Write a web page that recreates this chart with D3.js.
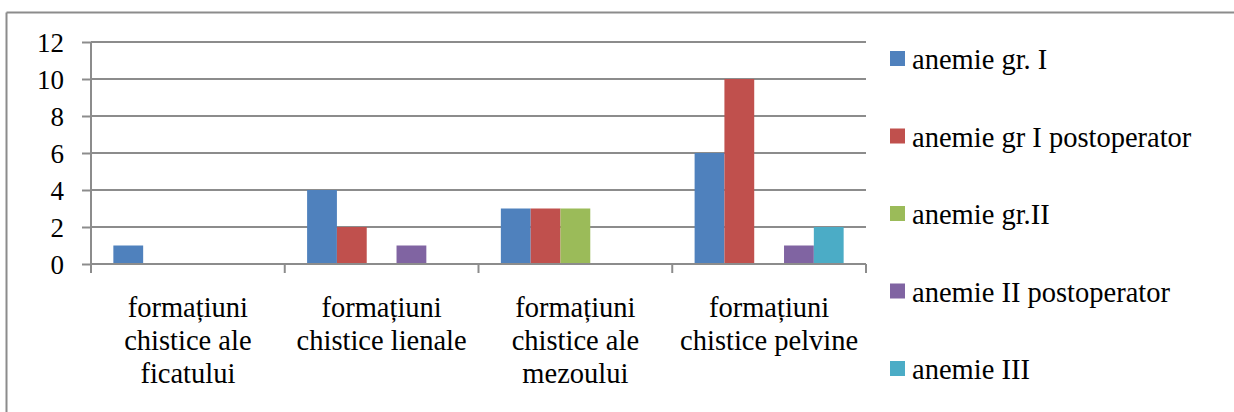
<!DOCTYPE html>
<html>
<head>
<meta charset="utf-8">
<script src="https://cdn.jsdelivr.net/npm/d3@7"></script>
<style>
html,body{margin:0;padding:0;background:#fff;}
svg{display:block;}
</style>
</head>
<body>
<svg id="chart" width="1234" height="412"></svg>
<script>
const categories = [
  ["formațiuni", "chistice ale", "ficatului"],
  ["formațiuni", "chistice lienale"],
  ["formațiuni", "chistice ale", "mezoului"],
  ["formațiuni", "chistice pelvine"]
];
const seriesNames = ["anemie gr. I", "anemie gr I postoperator", "anemie gr.II", "anemie II postoperator", "anemie III"];
const anemieGrI = [1, 4, 3, 6];
const anemieGrIPostop = [0, 2, 3, 10];
const anemieGrII = [0, 0, 3, 0];
const anemieIIPostop = [0, 1, 0, 1];
const anemieIII = [0, 0, 0, 2];
const seriesValues = [anemieGrI, anemieGrIPostop, anemieGrII, anemieIIPostop, anemieIII];
const colors = ["#4F81BD", "#C0504D", "#9BBB59", "#8064A2", "#4BACC6"];
const yTicks = [0, 2, 4, 6, 8, 10, 12];

const FONT = "'Liberation Serif', 'Times New Roman', serif";
const svg = d3.select("#chart");
const pLeft = 91, pRight = 866, pTop = 42, pBottom = 264;

// outer frame (top and left only visible)
svg.append("line").attr("x1", 6.5).attr("x2", 1234).attr("y1", 12.5).attr("y2", 12.5)
  .attr("stroke", "#8c8c8c").attr("stroke-width", 2);
svg.append("line").attr("x1", 6.5).attr("x2", 6.5).attr("y1", 12.5).attr("y2", 412)
  .attr("stroke", "#8c8c8c").attr("stroke-width", 2);

const catIdx = categories.map((d, i) => i);
const x0 = d3.scaleBand().domain(catIdx).range([pLeft, pRight]).paddingInner(0).paddingOuter(0);
const x1 = d3.scaleBand().domain(d3.range(seriesNames.length))
  .range([0, x0.bandwidth()]).paddingOuter(0.75).paddingInner(0);
const y = d3.scaleLinear().domain([0, 12]).range([pBottom, pTop]);

// gridlines
svg.append("g").selectAll("line").data(yTicks.filter(t => t > 0)).join("line")
  .attr("x1", pLeft).attr("x2", pRight)
  .attr("y1", d => y(d)).attr("y2", d => y(d))
  .attr("stroke", "#8c8c8c").attr("stroke-width", 2);

// y axis
const yAxis = svg.append("g").attr("transform", `translate(${pLeft},0)`)
  .call(d3.axisLeft(y).tickValues(yTicks).tickSize(9).tickPadding(18).tickFormat(d3.format("d")));
yAxis.attr("font-family", null).attr("font-size", null);
yAxis.select(".domain").attr("stroke", "#8c8c8c").attr("stroke-width", 2)
  .attr("d", `M0,${pTop}V${pBottom}`);
yAxis.selectAll(".tick line").attr("stroke", "#8c8c8c").attr("stroke-width", 2);
yAxis.selectAll(".tick text").style("font-size", "27px")
  .style("font-family", FONT).attr("fill", "#000").attr("dy", "0.34em");

// bars
const groups = svg.append("g").selectAll("g").data(catIdx).join("g")
  .attr("transform", d => `translate(${x0(d)},0)`);
groups.selectAll("rect")
  .data(ci => seriesValues.map((vals, si) => ({ si, v: vals[ci] })).filter(d => d.v > 0))
  .join("rect")
  .attr("x", d => x1(d.si))
  .attr("width", x1.bandwidth())
  .attr("y", d => y(d.v))
  .attr("height", d => y(0) - y(d.v))
  .attr("fill", d => colors[d.si]);

// x axis
const xAxis = svg.append("g").attr("transform", `translate(0,${pBottom})`);
xAxis.append("line").attr("x1", pLeft).attr("x2", pRight).attr("y1", 0).attr("y2", 0)
  .attr("stroke", "#8c8c8c").attr("stroke-width", 2);
const boundaries = catIdx.map(i => x0(i)).concat([pRight]);
xAxis.selectAll("line.tk").data(boundaries).join("line").attr("class", "tk")
  .attr("x1", d => d).attr("x2", d => d).attr("y1", 0).attr("y2", 9)
  .attr("stroke", "#8c8c8c").attr("stroke-width", 2);

// category labels
const labels = svg.append("g").selectAll("text").data(catIdx).join("text")
  .attr("text-anchor", "middle")
  .style("font-size", "28.5px").style("font-family", FONT).attr("fill", "#000")
  .attr("x", d => x0(d) + x0.bandwidth() / 2)
  .attr("y", 317);
labels.selectAll("tspan").data(d => categories[d].map(s => ({ s, x: x0(d) + x0.bandwidth() / 2 })))
  .join("tspan")
  .attr("x", d => d.x)
  .attr("dy", (d, i) => i === 0 ? 0 : 33)
  .text(d => d.s);

// legend
const legend = svg.append("g").selectAll("g").data(seriesNames).join("g")
  .attr("transform", (d, i) => `translate(890,${60 + i * 77.5})`);
legend.append("rect").attr("x", 0).attr("y", -9).attr("width", 15).attr("height", 15)
  .attr("fill", (d, i) => colors[i]);
legend.append("text").attr("x", 22).attr("y", 9)
  .style("font-size", "28.5px").style("font-family", FONT).attr("fill", "#000").text(d => d);
</script>
</body>
</html>
